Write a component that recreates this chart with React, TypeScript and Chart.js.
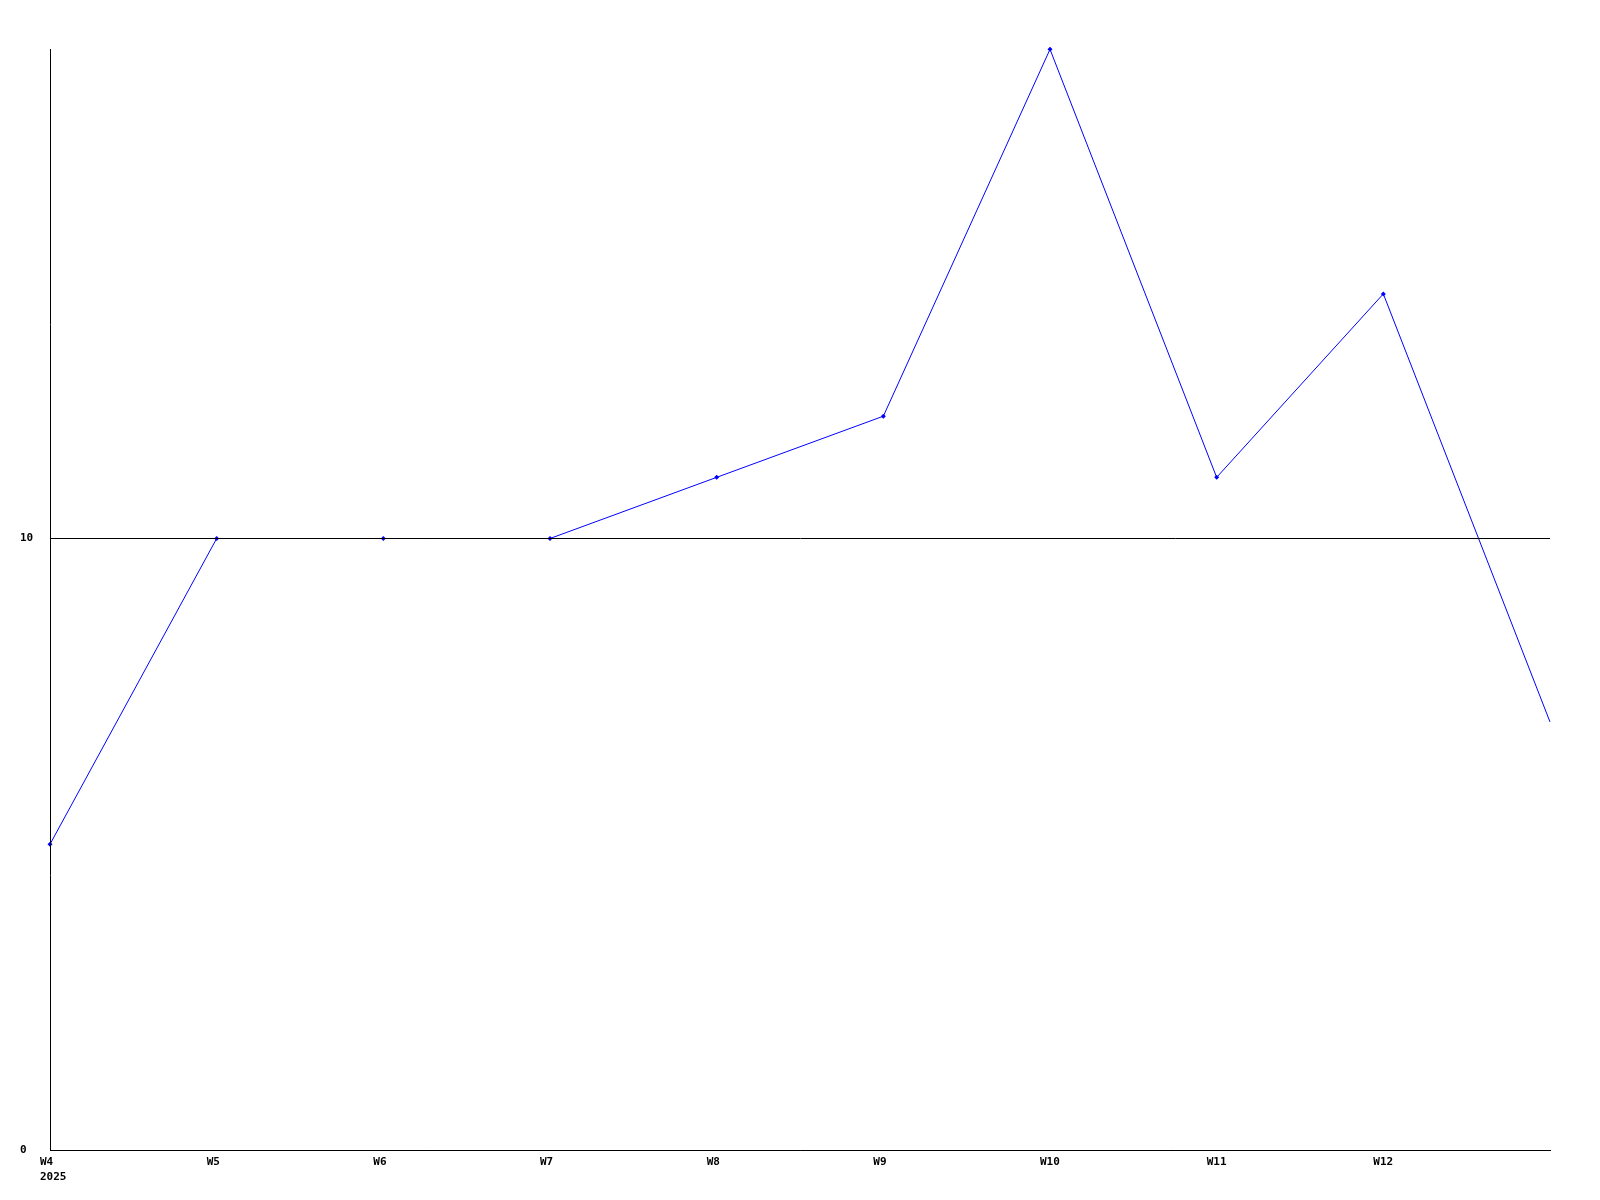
import React, { useEffect, useRef } from "react";
import { Chart, registerables } from "chart.js";

Chart.register(...registerables);

const categories = ["W4", "W5", "W6", "W7", "W8", "W9", "W10", "W11", "W12", "W13"];
const seriesValues = [5, 10, 10, 10, 11, 12, 18, 11, 14, 7];
const xTickLabels: (string | string[])[] = [["W4", "2025"], "W5", "W6", "W7", "W8", "W9", "W10", "W11", "W12", ""];
const yTickValues = [0, 10];
const pointRadii = [2.5, 2.5, 2.5, 2.5, 2.5, 2.5, 2.5, 2.5, 2.5, 0];

const FONT = { family: "'DejaVu Sans Mono', monospace", size: 11, weight: "bold" as const, lineHeight: 1.36 };

export default function App() {
  const ref = useRef<HTMLCanvasElement | null>(null);
  useEffect(() => {
    if (!ref.current) return;
    const chart = new Chart(ref.current, {
      type: "line",
      data: {
        labels: categories,
        datasets: [
          {
            data: seriesValues,
            borderColor: "#0000ff",
            backgroundColor: "#0000ff",
            borderWidth: 1,
            pointRadius: pointRadii,
            pointBorderWidth: 0,
            pointStyle: "rectRot",
            tension: 0,
            clip: 3,
          },
        ],
      },
      options: {
        animation: false,
        responsive: true,
        maintainAspectRatio: false,
        layout: { padding: { left: 20, top: 49.3, right: 50, bottom: 0 } },
        plugins: { legend: { display: false }, tooltip: { enabled: false }, title: { display: false } },
        scales: {
          x: {
            type: "category",
            offset: false,
            grid: { display: false, drawTicks: false },
            border: { display: true, color: "#000000", width: 1 },
            ticks: {
              color: "#000000",
              font: FONT,
              autoSkip: false,
              maxRotation: 0,
              minRotation: 0,
              align: "start",
              labelOffset: -10,
              padding: 5,
              callback: (_v: any, i: number) => xTickLabels[i],
            },
            afterFit: (s: any) => {
              s.height = 50;
            },
          },
          y: {
            type: "linear",
            min: 0,
            max: 18,
            grid: { display: true, color: "#000000", lineWidth: 1, drawTicks: false, z: 1 },
            border: { display: true, color: "#000000", width: 1, z: 1 },
            ticks: {
              color: "#000000",
              font: FONT,
              crossAlign: "far",
              padding: 4,
            },
            afterBuildTicks: (s: any) => {
              s.ticks = yTickValues.map((v) => ({ value: v }));
            },
            afterFit: (s: any) => {
              s.width = 30;
            },
          },
        },
      },
    });
    return () => chart.destroy();
  }, []);
  return (
    <div style={{ position: "fixed", left: 0, top: 0, width: 1600, height: 1200, background: "#ffffff" }}>
      <canvas ref={ref} />
    </div>
  );
}
